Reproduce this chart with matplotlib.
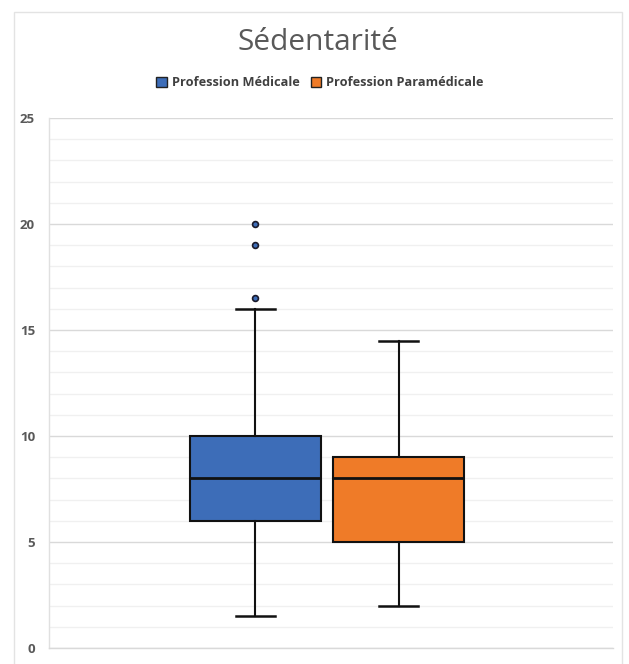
import matplotlib
matplotlib.use("Agg")
import matplotlib.pyplot as plt
from matplotlib.patches import Rectangle, Patch
from matplotlib.ticker import MultipleLocator

# Summary statistics for each group
groups = ["Profession Médicale", "Profession Paramédicale"]
colors = ["#3D6DB8", "#EF7B28"]
q1 = [6.0, 5.0]
medians = [8.0, 8.0]
q3 = [10.0, 9.0]
whisker_low = [1.5, 2.0]
whisker_high = [16.0, 14.5]
outliers = [[16.5, 19.0, 20.0], []]
y_ticks = [0, 5, 10, 15, 20, 25]

stats = []
for i, name in enumerate(groups):
    stats.append(dict(label=name, q1=q1[i], med=medians[i], q3=q3[i],
                      whislo=whisker_low[i], whishi=whisker_high[i],
                      fliers=outliers[i]))

fig = plt.figure(figsize=(6.29, 6.64), dpi=100)
fig.patch.set_facecolor("white")

# light outer chart frame
frame = Rectangle((14 / 629, -0.01), (622 - 14) / 629, 1 - 12 / 664 + 0.01,
                  transform=fig.transFigure, fill=False,
                  edgecolor="#e3e3e3", linewidth=1.0)
fig.patches.append(frame)

ax = fig.add_axes([49 / 629, 1 - 648 / 664, (613 - 49) / 629, (648 - 118) / 664])

bp = ax.bxp(stats, positions=[1, 2], widths=0.913, patch_artist=True,
            showfliers=True, capwidths=0.27,
            boxprops=dict(linewidth=1.5, edgecolor="#111111"),
            medianprops=dict(color="#111111", linewidth=2.0),
            whiskerprops=dict(color="#111111", linewidth=1.5),
            capprops=dict(color="#111111", linewidth=1.8),
            flierprops=dict(marker="o", markersize=4.2,
                            markerfacecolor=colors[0],
                            markeredgecolor="#1a1a2a", markeredgewidth=1.2))
for patch, c in zip(bp["boxes"], colors):
    patch.set_facecolor(c)

ax.set_xlim(-0.435, 3.49)
ax.set_ylim(0, 25)
ax.set_yticks(y_ticks)
ax.yaxis.set_minor_locator(MultipleLocator(1))
ax.set_xticks([])

ax.grid(True, which="major", axis="y", color="#d9d9d9", linewidth=1.0)
ax.grid(True, which="minor", axis="y", color="#f0f0f0", linewidth=1.0)
ax.set_axisbelow(True)

for side in ["top", "right"]:
    ax.spines[side].set_visible(False)
ax.spines["bottom"].set_color("#d9d9d9")
ax.spines["bottom"].set_linewidth(1.0)
ax.spines["left"].set_color("#e0e0e0")
ax.spines["left"].set_linewidth(1.0)

ax.tick_params(axis="y", which="both", length=0, pad=10,
               labelsize=9.5, labelcolor="#595959")
ax.tick_params(axis="x", length=0)
for lbl in ax.get_yticklabels():
    lbl.set_fontweight("bold")
    lbl.set_fontfamily("Open Sans")

fig.text(318 / 629, 1 - 42 / 664, "Sédentarité", ha="center", va="center",
         fontsize=21.5, color="#595959", family="Open Sans")

handles = [Patch(facecolor=c, edgecolor="#222222", linewidth=1.0) for c in colors]
leg = fig.legend(handles, groups, loc="center", ncol=2,
                 bbox_to_anchor=(320 / 629, 1 - 83 / 664), frameon=False,
                 handlelength=0.8, handleheight=0.8, handletextpad=0.4,
                 columnspacing=0.9,
                 prop=dict(family="Open Sans", weight="bold", size=9.2))
for t in leg.get_texts():
    t.set_color("#404040")

fig.savefig("out.png", dpi=100, facecolor="white")
